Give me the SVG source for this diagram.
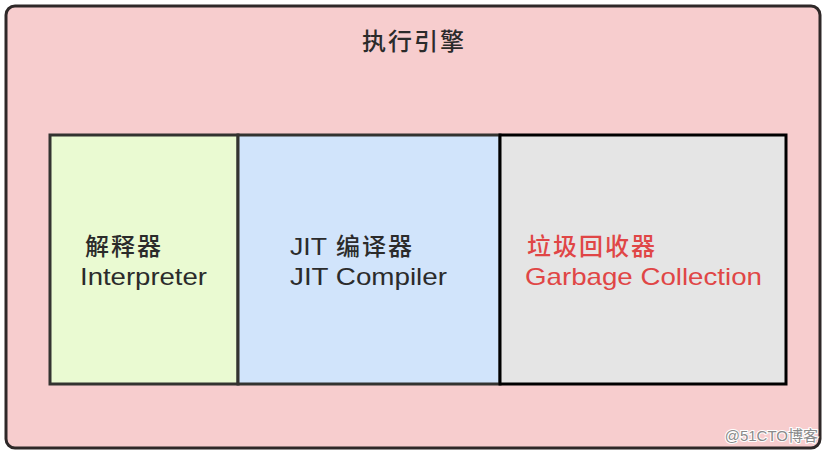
<svg xmlns="http://www.w3.org/2000/svg" width="828" height="454" viewBox="0 0 828 454">
<style>
.lbl{font-family:"Liberation Sans","Noto Sans CJK SC",sans-serif;font-size:24px;fill:#2b2b2b}
.cjk{font-family:"Noto Sans CJK SC",sans-serif;font-size:24px;font-weight:500;fill:#2b2b2b}
.red{fill:#e04646}
.box{stroke-width:3}
</style>
<rect width="828" height="454" fill="#ffffff"/>
<g id="engine">
<rect x="6" y="6" width="814" height="442" rx="9" fill="#f7cdce" stroke="#2e2828" stroke-width="3"/>
<text x="362" y="50" class="cjk" textLength="102" lengthAdjust="spacing">执行引擎</text>
</g>
<g id="interpreter">
<rect x="50" y="135" width="188" height="249" fill="#eafad2" stroke="#333330" class="box"/>
<text x="85" y="255" class="cjk" textLength="76" lengthAdjust="spacing">解释器</text>
<text x="80" y="285" class="lbl" textLength="127" lengthAdjust="spacingAndGlyphs">Interpreter</text>
</g>
<g id="jit">
<rect x="238" y="135" width="262" height="249" fill="#d1e4fb" stroke="#333330" class="box"/>
<text y="255"><tspan x="290" class="lbl" textLength="37" lengthAdjust="spacingAndGlyphs">JIT</tspan><tspan x="336" class="cjk" textLength="76" lengthAdjust="spacing">编译器</tspan></text>
<text x="290" y="285" class="lbl" textLength="157" lengthAdjust="spacingAndGlyphs">JIT Compiler</text>
</g>
<g id="gc">
<rect x="500" y="135" width="286" height="249" fill="#e5e5e5" stroke="#000000" class="box"/>
<text x="527" y="255" class="cjk red" textLength="128" lengthAdjust="spacing">垃圾回收器</text>
<text x="525" y="285" class="lbl red" textLength="237" lengthAdjust="spacingAndGlyphs">Garbage Collection</text>
</g>
<g id="connectors"></g>
<text x="818" y="441" text-anchor="end" font-family="'Liberation Sans','Noto Sans CJK SC',sans-serif" font-size="15" fill="#8a8a8a" stroke="#ffffff" stroke-width="2" paint-order="stroke">@51CTO博客</text>
</svg>
